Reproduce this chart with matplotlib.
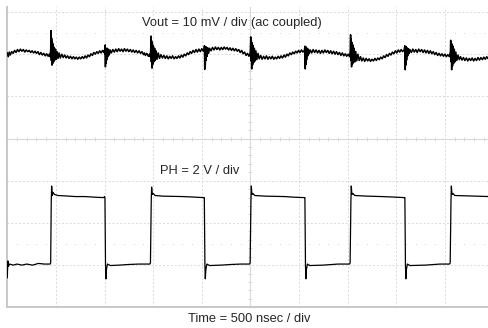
import matplotlib
matplotlib.use("Agg")
import matplotlib.pyplot as plt
import numpy as np

# scope settings
time_per_div = 500.0      # ns / div
vout_per_div = 10.0       # mV / div
ph_per_div = 2.0          # V / div
vout_pos = 6.0            # channel position, div from bottom
ph_pos = 1.0

# switch node (PH), ns / V
ph_t = [0, 6, 12, 25, 60, 100, 150, 200, 260, 320, 380, 440,
        446, 452, 456, 462, 470, 485, 520, 600, 700, 800, 900, 990, 1000,
        1004, 1010, 1014, 1020, 1030, 1060, 1150, 1250, 1350, 1465,
        1472, 1480, 1484, 1490, 1500, 1520, 1600, 1700, 1800, 1900, 2020,
        2026, 2032, 2036, 2042, 2052, 2080, 2200, 2300, 2400, 2490,
        2497, 2505, 2509, 2515, 2525, 2545, 2650, 2750, 2850, 2950, 3055,
        3060, 3066, 3070, 3076, 3086, 3110, 3250, 3400, 3518,
        3525, 3533, 3537, 3543, 3553, 3573, 3700, 3850, 4000, 4083,
        4088, 4094, 4098, 4104, 4114, 4140, 4300, 4450, 4547,
        4554, 4562, 4566, 4572, 4582, 4602, 4750, 4955]
ph_v = [-0.6, 0.2, -0.05, 0.05, 0.0, 0.05, 0.0, 0.05, 0.0, 0.08, 0.05, 0.05,
        0.1, 3.0, 3.75, 3.3, 3.45, 3.35, 3.3, 3.28, 3.25, 3.25, 3.22, 3.2, 3.25,
        3.2, 0.0, -0.65, -0.2, 0.05, -0.02, 0.0, 0.03, 0.05, 0.05,
        0.1, 3.0, 3.7, 3.35, 3.4, 3.3, 3.27, 3.26, 3.25, 3.23, 3.2,
        3.2, 0.0, -0.65, -0.2, 0.05, -0.02, 0.0, 0.03, 0.05, 0.05,
        0.1, 3.0, 3.75, 3.35, 3.4, 3.3, 3.27, 3.26, 3.25, 3.22, 3.2,
        3.2, 0.0, -0.65, -0.2, 0.05, -0.02, 0.0, 0.05, 0.05,
        0.1, 3.0, 3.75, 3.35, 3.4, 3.3, 3.27, 3.25, 3.22, 3.2,
        3.2, 0.0, -0.65, -0.2, 0.05, -0.02, 0.0, 0.05, 0.05,
        0.1, 3.0, 3.75, 3.35, 3.4, 3.3, 3.28, 3.25]

# output ripple (ac coupled), ns / mV
vout_t = [0, 10, 20, 30, 45, 60, 75, 90, 105, 120, 135, 150, 165, 180, 195, 210,
          225, 240, 255, 270, 285, 300, 315, 330, 345, 360, 375, 390, 405, 420, 432, 440,
          446, 450, 453, 456, 459, 463, 467, 472, 477, 483, 489, 496, 504, 512, 522, 532,
          545, 560, 575,
          590, 605, 620, 635, 650, 665, 680, 695, 710, 725, 740, 755, 770, 785, 800, 815,
          830, 845, 860, 875, 890, 905, 920, 935, 950, 965, 980, 992, 1000,
          1004, 1007, 1009, 1011, 1014, 1018, 1022, 1027, 1033, 1040, 1048, 1058,
          1070, 1085, 1100, 1115, 1130, 1145, 1160, 1175, 1190, 1205, 1220, 1235, 1250,
          1265, 1280, 1295, 1310, 1325, 1340, 1355, 1370, 1385, 1400, 1410, 1420,
          1435, 1450, 1462, 1470,
          1474, 1478, 1481, 1484, 1488, 1492, 1497, 1502, 1508, 1515, 1522, 1530, 1540,
          1552, 1565, 1580,
          1595, 1610, 1625, 1640, 1655, 1670, 1685, 1700, 1715, 1730, 1745, 1760, 1775,
          1790, 1805, 1820, 1835, 1850, 1865, 1880, 1895, 1910, 1925, 1940, 1955, 1970,
          1985, 2000, 2015, 2024,
          2027, 2030, 2033, 2036, 2040, 2044, 2049, 2055, 2062, 2070, 2080,
          2095, 2110, 2125, 2140, 2155, 2170, 2185, 2200, 2215, 2230, 2245, 2260, 2275,
          2290, 2305, 2320, 2335, 2350, 2365, 2380, 2395, 2410, 2425, 2440, 2455, 2470,
          2485, 2495,
          2499, 2503, 2506, 2509, 2513, 2517, 2522, 2527, 2533, 2540, 2548, 2556, 2566,
          2578, 2590, 2605,
          2620, 2635, 2650, 2665, 2680, 2695, 2710, 2725, 2740, 2755, 2770, 2785, 2800,
          2815, 2830, 2845, 2860, 2875, 2890, 2905, 2920, 2935, 2950, 2965, 2980, 2995,
          3010, 3025, 3040, 3055,
          3060, 3064, 3067, 3070, 3074, 3078, 3083, 3089, 3096, 3104,
          3115, 3130, 3145, 3160, 3175, 3190, 3205, 3220, 3235, 3250, 3265, 3280, 3295,
          3310, 3325, 3340, 3355, 3370, 3385, 3400, 3415, 3430, 3445, 3460, 3475, 3490,
          3505, 3520,
          3526, 3530, 3533, 3536, 3540, 3544, 3549, 3554, 3560, 3567, 3575, 3583, 3593,
          3605, 3618, 3632,
          3645, 3660, 3675, 3690, 3705, 3720, 3735, 3750, 3765, 3780, 3795, 3810, 3825,
          3840, 3855, 3870, 3885, 3900, 3915, 3930, 3945, 3960, 3975, 3990, 4005, 4020,
          4035, 4050, 4065, 4080,
          4088, 4092, 4095, 4098, 4102, 4106, 4111, 4117, 4124, 4132,
          4140, 4155, 4170, 4185, 4200, 4215, 4230, 4245, 4260, 4275, 4290, 4305, 4320,
          4335, 4350, 4365, 4380, 4395, 4410, 4425, 4440, 4455, 4470, 4485, 4500, 4515,
          4530, 4545, 4552,
          4556, 4559, 4562, 4565, 4569, 4573, 4578, 4583, 4589, 4596, 4604, 4612, 4622,
          4634, 4647,
          4660, 4675, 4690, 4705, 4720, 4735, 4750, 4765, 4780, 4795, 4810, 4825, 4840,
          4855, 4870, 4885, 4900, 4915, 4930, 4945, 4955]
vout_mv = [0.3, -0.6, 0.5, -0.2, 0.6, 0.2, 0.9, 0.4, 1.1, 0.6, 1.2, 0.7, 1.1, 0.5, 1.0, 0.6,
           0.9, 0.4, 0.8, 0.3, 0.7, 0.2, 0.6, -0.1, 0.4, -0.2, 0.2, -0.4, 0.1, -0.5, 0.0, -0.6,
           1.0, 5.6, -1.5, 3.8, -2.6, 3.0, -2.2, 2.4, -1.8, 1.6, -1.4, 1.2, -1.2, 0.6, -1.0, 0.3,
           -0.9, 0.0, -0.8,
           -0.2, -0.9, -0.4, -1.0, -0.5, -1.1, -0.6, -1.1, -0.7, -1.2, -0.7, -1.1, -0.6, -1.0, -0.4, -0.9,
           -0.2, -0.6, 0.1, -0.3, 0.4, 0.0, 0.6, 0.2, 0.8, 0.3, 0.9, 0.4, 1.0,
           0.0, 2.2, -3.0, 1.5, -2.2, 1.2, -1.4, 1.4, -0.6, 1.2, -0.2, 1.0,
           0.3, 1.1, 0.5, 1.2, 0.6, 1.3, 0.7, 1.2, 0.6, 1.3, 0.7, 1.2, 0.6,
           1.1, 0.5, 1.0, 0.4, 0.9, 0.3, 0.8, 0.2, 0.6, -0.1, 0.3, -0.3,
           0.2, -0.5, 0.0, -0.6,
           0.8, 4.3, -1.8, 3.2, -3.3, 2.6, -2.4, 2.0, -1.8, 1.4, -1.5, 0.8, -1.2,
           0.3, -1.0, -0.1,
           -0.9, -0.3, -1.0, -0.4, -1.1, -0.5, -1.0, -0.4, -1.1, -0.6, -1.0, -0.4, -0.9,
           -0.2, -0.7, 0.0, -0.4, 0.3, -0.1, 0.6, 0.2, 0.9, 0.4, 1.1, 0.5, 1.2,
           0.6, 1.3, 0.7, 1.0,
           2.0, -3.6, 1.6, -2.6, 1.8, -1.5, 1.6, -0.5, 1.5, 0.2, 1.4,
           0.8, 1.6, 1.0, 1.7, 1.1, 1.6, 1.0, 1.6, 1.1, 1.7, 1.2, 1.6, 1.0,
           1.5, 0.9, 1.4, 0.8, 1.3, 0.7, 1.1, 0.4, 0.9, 0.1, 0.5, -0.3, 0.2,
           -0.5, 0.0,
           0.9, 4.1, -1.6, 3.3, -3.5, 2.7, -2.6, 2.1, -2.0, 1.4, -1.6, 0.8, -1.3,
           0.2, -1.1, -0.3,
           -1.2, -0.5, -1.1, -0.4, -1.2, -0.6, -1.1, -0.5, -1.2, -0.7, -1.1, -0.5, -1.0,
           -0.4, -0.9, -0.2, -0.7, 0.0, -0.4, 0.3, -0.1, 0.5, 0.1, 0.7, 0.3, 0.9,
           0.4, 1.0, 0.5, 0.9,
           1.9, -3.5, 1.5, -2.5, 1.7, -1.3, 1.4, -0.4, 1.2, 0.1,
           1.0, 0.3, 1.1, 0.4, 1.0, 0.3, 0.9, 0.2, 0.9, 0.3, 1.0, 0.4, 0.9,
           0.2, 0.8, 0.1, 0.7, 0.0, 0.6, -0.1, 0.4, -0.3, 0.3, -0.4, 0.1, -0.5,
           0.0, -0.6,
           0.8, 4.6, -1.4, 3.6, -3.0, 2.8, -2.4, 2.2, -2.0, 1.4, -1.8, 0.6, -1.6,
           0.0, -1.5, -0.6,
           -1.6, -0.9, -1.7, -1.0, -1.6, -1.1, -1.7, -1.2, -1.6, -1.0, -1.5, -0.9, -1.3,
           -0.7, -1.1, -0.4, -0.8, -0.1, -0.5, 0.2, -0.2, 0.5, 0.1, 0.8, 0.3, 1.0,
           0.5, 1.1, 0.6, 1.0,
           2.0, -3.7, 1.6, -2.6, 1.8, -1.4, 1.5, -0.4, 1.3, 0.2,
           1.1, 0.4, 1.2, 0.5, 1.1, 0.4, 1.2, 0.6, 1.1, 0.4, 1.0, 0.3, 0.9,
           0.2, 0.8, 0.1, 0.6, -0.1, 0.4, -0.3, 0.2, -0.4, 0.1, -0.5, 0.0, -0.6,
           -0.1, -0.6, 0.2,
           0.6, 3.3, -1.8, 2.8, -3.7, 2.4, -2.8, 1.9, -2.2, 1.2, -1.8, 0.5, -1.5,
           -0.2, -1.3,
           -0.6, -1.4, -0.8, -1.5, -0.9, -1.6, -1.0, -1.5, -0.9, -1.6, -1.0, -1.5, -0.8,
           -1.4, -0.8, -1.3, -0.7, -1.2, -0.6, -1.1, -0.7]

x_max = 4953
y_max = 7.118
grid_col = "#d9d9d9"
text_col = "#262626"

fig = plt.figure(figsize=(4.89, 3.28), dpi=100)
ax = fig.add_axes([0.0149, 0.0631, 0.9851, 0.9155])
ax.set_xlim(0, x_max)
ax.set_ylim(0, y_max)
ax.set_xticks([])
ax.set_yticks([])
for s in ("top", "right"):
    ax.spines[s].set_visible(False)
for s in ("left", "bottom"):
    ax.spines[s].set_color("#c8c8c8")
    ax.spines[s].set_linewidth(1.4)

# graticule
for k in range(1, 10):
    if k == 5:
        continue
    ax.axvline(k * time_per_div, color=grid_col, lw=0.7, ls=(0, (2, 2)), zorder=1)
for k in (1, 2, 3, 5, 6, 7):
    ax.axhline(k, color=grid_col, lw=0.7, ls=(0, (2, 2)), zorder=1)
ax.axvline(5 * time_per_div, color=grid_col, lw=0.8, zorder=1)
ax.axhline(4, color=grid_col, lw=0.8, zorder=1)

minor_x = np.arange(0, x_max, time_per_div / 5)
minor_x = minor_x[(minor_x % time_per_div) != 0]
minor_y = np.arange(0.2, y_max, 0.2)
minor_y = minor_y[np.abs(minor_y - np.round(minor_y)) > 0.05]
ax.plot(minor_x, np.full_like(minor_x, 4), ls="none", marker="|", ms=3.5,
        mew=0.7, color=grid_col, zorder=1)
ax.plot(np.full_like(minor_y, 5 * time_per_div), minor_y, ls="none", marker="_",
        ms=3.5, mew=0.7, color=grid_col, zorder=1)
for row in (1.5, 6.5):
    ax.plot(minor_x, np.full_like(minor_x, row), ls="none", marker="s", ms=0.7,
            mew=0, color="#d4d4d4", zorder=1)

# traces
ax.plot(vout_t, vout_pos + np.array(vout_mv) / vout_per_div, color="black",
        lw=1.1, zorder=3)
ax.plot(ph_t, ph_pos + np.array(ph_v) / ph_per_div, color="black",
        lw=0.9, zorder=3)

font = dict(family=["Liberation Sans", "DejaVu Sans"], fontsize=9.3, color=text_col)
fig.text(0.2898, 0.9207, "Vout = 10 mV / div (ac coupled)", ha="left", va="baseline", **font)
fig.text(0.3272, 0.4695, "PH = 2 V / div", ha="left", va="baseline", **font)
fig.text(0.385, 0.0192, "Time = 500 nsec / div", ha="left", va="baseline", **font)

fig.savefig("out.png", dpi=100)
